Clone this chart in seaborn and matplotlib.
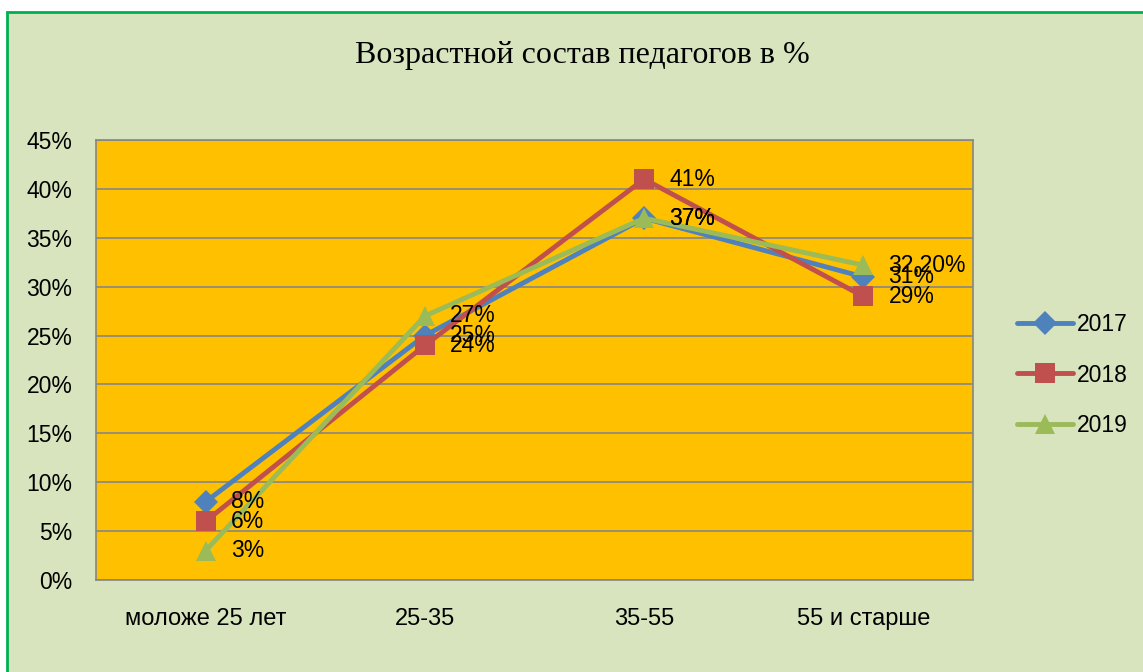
import numpy as np
import pandas as pd
import matplotlib
matplotlib.use("Agg")
import matplotlib.pyplot as plt
import seaborn as sns
from matplotlib.patches import Rectangle

sns.set_theme(style="white")
plt.rcParams['font.family'] = ['Liberation Sans', 'DejaVu Sans']
plt.rcParams['text.color'] = 'black'

# data
categories = ["моложе 25 лет", "25-35", "35-55", "55 и старше"]
years = ["2017", "2018", "2019"]
v2017 = [8, 25, 37, 31]
v2018 = [6, 24, 41, 29]
v2019 = [3, 27, 37, 32.2]
labels2017 = ["8%", "25%", "37%", "31%"]
labels2018 = ["6%", "24%", "41%", "29%"]
labels2019 = ["3%", "27%", "37%", "32,20%"]

series = {"2017": v2017, "2018": v2018, "2019": v2019}
point_labels = {"2017": labels2017, "2018": labels2018, "2019": labels2019}
colors = {"2017": "#4F81BD", "2018": "#C0504D", "2019": "#9BBB59"}
markers = {"2017": "D", "2018": "s", "2019": "^"}
msize = {"2017": 12, "2018": 14, "2019": 15}

rows = []
for y in years:
    for i, c in enumerate(categories):
        rows.append({"pos": i, "cat": c, "year": y, "value": series[y][i]})
df = pd.DataFrame(rows)

fig = plt.figure(figsize=(11.43, 6.72), dpi=100)
fig.patch.set_facecolor("white")
# green framed background
fig.patches.append(Rectangle((7 / 1143, -0.1), 1.2, 1.1 - 12 / 672, transform=fig.transFigure,
                             facecolor="#D7E4BD", edgecolor="#00B050", linewidth=2, zorder=-5))

ax = fig.add_axes([96 / 1143, 1 - 580 / 672, (973 - 96) / 1143, (580 - 140) / 672])
ax.set_zorder(1)
ax.set_facecolor("#FFC000")

for y in years:
    sub = df[df["year"] == y]
    sns.lineplot(data=sub, x="pos", y="value", ax=ax, color=colors[y], linewidth=3.5,
                 marker=markers[y], markersize=msize[y], markeredgewidth=0,
                 label=y, sort=False, zorder=3)
    for i, v in enumerate(series[y]):
        ax.annotate(point_labels[y][i], (i, v), xytext=(18, 0), textcoords="offset points",
                    ha="left", va="center", fontsize=16.5, color="black", zorder=5)

ax.set_xlim(-0.5, 3.5)
ax.set_ylim(0, 45)
ax.set_yticks(np.arange(0, 46, 5))
ax.set_yticklabels([f"{t}%" for t in range(0, 46, 5)])
ax.set_xticks(range(len(categories)))
ax.set_xticklabels(categories)
ax.tick_params(axis="both", length=0, labelsize=16.5, colors="black")
ax.tick_params(axis="x", labelsize=17)
ax.tick_params(axis="y", pad=17)
ax.tick_params(axis="x", pad=20)
ax.yaxis.grid(True, color="#868686", linewidth=1.2)
ax.set_axisbelow(True)
ax.set_xlabel("")
ax.set_ylabel("")
for s in ax.spines.values():
    s.set_color("#868686")
    s.set_linewidth(1.2)

ax.get_legend().remove()
handles, labs = ax.get_legend_handles_labels()
leg = fig.legend(handles, labs, loc="center left", bbox_to_anchor=(996 / 1143, 1 - 375 / 672),
                 frameon=False, fontsize=16.5, handlelength=2.45, labelspacing=1.2,
                 handletextpad=0.2)
for t in leg.get_texts():
    t.set_color("black")

fig.text(582 / 1143, 1 - 55 / 672, "Возрастной состав педагогов в %", ha="center", va="center",
         fontsize=23, color="black", family=["Liberation Serif", "DejaVu Serif"])

fig.savefig("out.png", dpi=100)
